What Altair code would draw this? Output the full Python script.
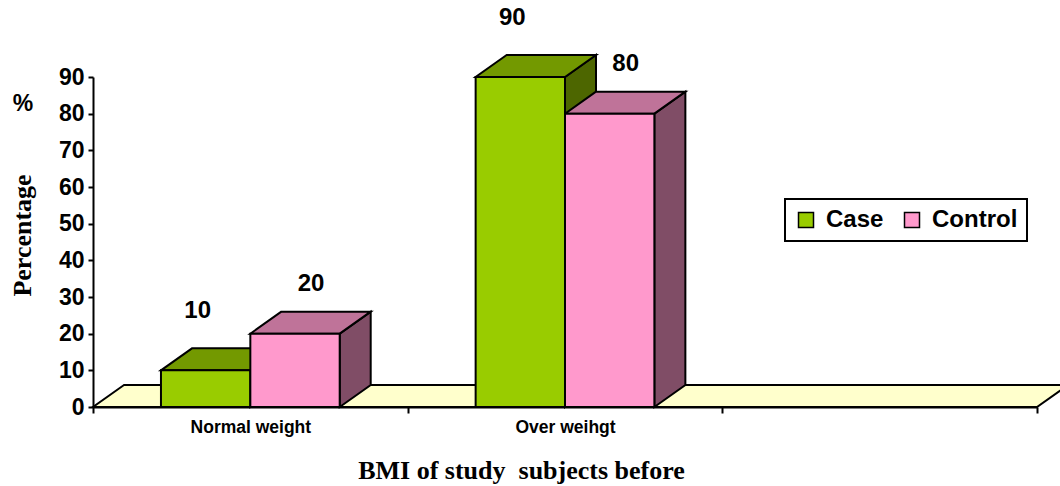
import json

import altair as alt
import pandas as pd

# ---- data -------------------------------------------------------------
categories = ["Normal weight", "Over weihgt"]
band_labels = categories + [""]          # the axis has a third, empty band
series = ["Case", "Control"]
case_pct = [10, 90]
control_pct = [20, 80]

# ---- styling ----------------------------------------------------------
front_colors = ["#99CC00", "#FF99CC"]
top_colors = ["#739900", "#BF7399"]
side_colors = ["#4D6600", "#804D66"]
floor_color = "#FFFFCC"
SANS = "Liberation Sans"
SERIF = "Liberation Serif"

PLOT_W, PLOT_H = 944, 330
N_BANDS = len(band_labels)
Y_MAX = 90
# 3-D depth of the boxes (31 px right, 22 px up), expressed in data units
DEPTH_X = 31 * N_BANDS / PLOT_W
DEPTH_Y = 22 * Y_MAX / PLOT_H
GAP = 0.216      # empty space at each side of a band
BAR_W = 0.284    # width of one box, in bands

# ---- geometry of the pseudo-3D boxes -----------------------------------
fronts, sides, tops = [], [], []
for ci, cat in enumerate(categories):
    for si, (name, vals) in enumerate(zip(series, [case_pct, control_pct])):
        v = vals[ci]
        x0 = ci + GAP + si * BAR_W
        x1 = x0 + BAR_W
        face = f"{cat}|{name}"
        fronts.append(dict(category=cat, series=name, value=v,
                           x0=x0, x1=x1, xc=(x0 + x1) / 2))
        sides += [
            dict(face=face, x=x1, lo=0, hi=v, fill=side_colors[si]),
            dict(face=face, x=x1 + DEPTH_X, lo=DEPTH_Y, hi=v + DEPTH_Y,
                 fill=side_colors[si]),
        ]
        tops += [
            dict(face=face, y=v, xa=x0, xb=x1, fill=top_colors[si]),
            dict(face=face, y=v + DEPTH_Y, xa=x0 + DEPTH_X, xb=x1 + DEPTH_X,
                 fill=top_colors[si]),
        ]

floor = [
    dict(face="floor", y=0, xa=0, xb=N_BANDS, fill=floor_color),
    dict(face="floor", y=DEPTH_Y, xa=DEPTH_X, xb=N_BANDS + DEPTH_X,
         fill=floor_color),
]

fronts_df = pd.DataFrame(fronts)
sides_df = pd.DataFrame(sides)
tops_df = pd.DataFrame(tops)
floor_df = pd.DataFrame(floor)

xs = alt.Scale(domain=[0, N_BANDS], nice=False, zero=False)
ys = alt.Scale(domain=[0, Y_MAX], nice=False)

# ticks on band edges, names on band centres
x_values = [i / 2 for i in range(2 * N_BANDS + 1)]
label_expr = f"datum.value % 1 ? {json.dumps(band_labels)}[floor(datum.value)] : ''"

X_TITLE = "BMI of study\u00a0 subjects before"
Y_TITLE = "Percentage"

x_axis = alt.Axis(
    values=x_values,
    labelExpr=label_expr,
    tickOpacity={"condition": {"test": "datum.value % 1 == 0", "value": 1}, "value": 0},
    grid=False,
    labelOverlap=False,
    labelFlush=False,
    labelFont=SANS, labelFontSize=17.5, labelFontWeight="bold", labelColor="black",
    labelPadding=5,
    domainColor="black", domainWidth=2,
    tickColor="black", tickWidth=2, tickSize=6,
    titleFont=SERIF, titleFontSize=26, titleFontWeight="bold", titleColor="black",
    titleX=428, titleY=71.5, titleBaseline="alphabetic", titleAlign="center",
)
y_axis = alt.Axis(
    values=list(range(0, Y_MAX + 1, 10)),
    grid=False,
    labelFont=SANS, labelFontSize=23, labelFontWeight="bold", labelColor="black",
    labelPadding=4,
    domainColor="black", domainWidth=2,
    tickColor="black", tickWidth=2, tickSize=5,
    titleFont=SERIF, titleFontSize=26, titleFontWeight="bold", titleColor="black",
    titleAngle=270, titleX=-71, titleY=158, titleBaseline="middle", titleAlign="center",
)


def xq(field):
    return alt.X(field, type="quantitative", scale=xs, axis=x_axis, title=X_TITLE)


def yq(field):
    return alt.Y(field, type="quantitative", scale=ys, axis=y_axis, title=Y_TITLE)


face_style = dict(stroke="black", strokeWidth=2, opacity=1)

floor_layer = alt.Chart(floor_df).mark_area(orient="horizontal", **face_style).encode(
    y=yq("y"),
    x=xq("xa"),
    x2="xb:Q",
    fill=alt.Fill("fill:N", scale=None),
    detail="face:N",
)

side_layer = alt.Chart(sides_df).mark_area(orient="vertical", **face_style).encode(
    x=xq("x"),
    y=yq("lo"),
    y2="hi:Q",
    fill=alt.Fill("fill:N", scale=None),
    detail="face:N",
)

top_layer = alt.Chart(tops_df).mark_area(orient="horizontal", **face_style).encode(
    y=yq("y"),
    x=xq("xa"),
    x2="xb:Q",
    fill=alt.Fill("fill:N", scale=None),
    detail="face:N",
)

front_layer = alt.Chart(fronts_df).mark_rect(stroke="black", strokeWidth=2, opacity=1).encode(
    x=xq("x0"),
    x2="x1:Q",
    y=yq("value"),
    y2=alt.datum(0),
    color=alt.Color(
        "series:N",
        scale=alt.Scale(domain=series, range=front_colors),
        legend=alt.Legend(
            title=None,
            orient="none", legendX=692, legendY=122,
            direction="horizontal",
            symbolType="square", symbolSize=225,
            symbolStrokeColor="black", symbolStrokeWidth=1.5, symbolOpacity=1,
            labelFont=SANS, labelFontSize=24, labelFontWeight="bold",
            labelColor="black", labelOffset=8, labelLimit=0,
            columnPadding=16, padding=9,
            strokeColor="black", fillColor="white",
        ),
    ),
)


def value_labels(name, dx, dy):
    return alt.Chart(fronts_df).transform_filter(
        alt.datum.series == name
    ).mark_text(
        dx=dx, dy=dy, font=SANS, fontSize=24, fontWeight="bold",
        color="black", align="center", baseline="middle",
    ).encode(
        x=xq("xc"),
        y=yq("value"),
        text="value:Q",
    )


pct_layer = alt.Chart(pd.DataFrame({"t": ["%"]})).mark_text(
    font=SANS, fontSize=23, fontWeight="bold", color="black",
    align="center", baseline="middle",
).encode(text="t:N", x=alt.value(-70), y=alt.value(27))

chart = alt.layer(
    floor_layer,
    side_layer,
    top_layer,
    front_layer,
    value_labels("Case", -8, -59),
    value_labels("Control", 16, -50),
    pct_layer,
).properties(
    width=PLOT_W,
    height=PLOT_H,
    padding={"left": 93, "top": 77, "right": 23, "bottom": 79},
    autosize=alt.AutoSizeParams(type="none"),
    background="white",
).configure_view(stroke=None).configure_legend(strokeWidth=2)

chart.save("out.html", embed_options={"renderer": "svg", "actions": False})
